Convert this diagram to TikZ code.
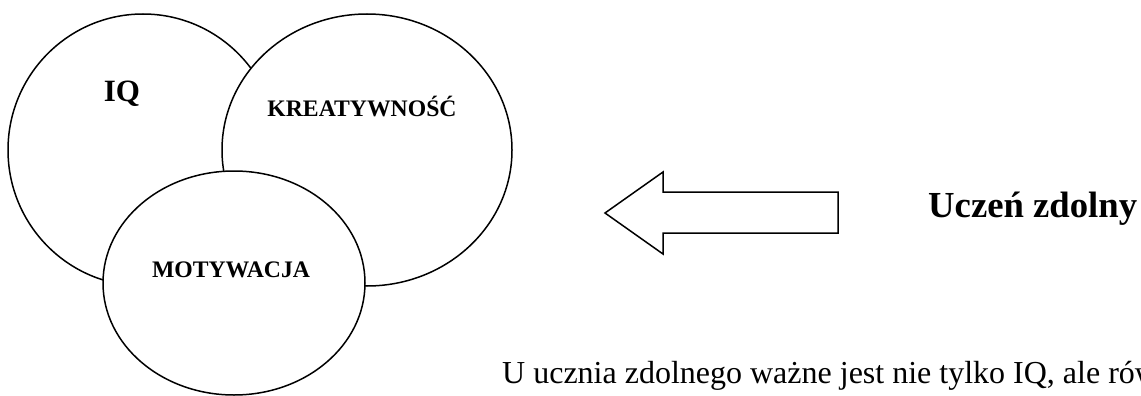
\documentclass[tikz,border=0pt]{standalone}
\usepackage{fontspec}
\setmainfont{Liberation Serif}
\definecolor{VennLine}{HTML}{000000}
\definecolor{VennFill}{HTML}{FFFFFF}

\begin{document}
\begin{tikzpicture}[x=1pt,y=-1pt,
    vennring/.style={draw=VennLine,fill=VennFill,line width=1.5pt},
    vennlabel/.style={anchor=base,inner sep=0pt,font=\bfseries\fontsize{23.7}{26}\selectfont}]
      \useasboundingbox (0,0) rectangle (1141,396);
      \clip (0,0) rectangle (1141,396);
      % three overlapping sets
      \draw[vennring] (143,150) ellipse [x radius=135, y radius=136];
      \draw[vennring] (367,150) ellipse [x radius=145, y radius=136];
      \draw[vennring] (234,283) ellipse [x radius=131, y radius=112];
      \node[vennlabel,font=\bfseries\fontsize{31}{34}\selectfont] (iq) at (122,102) {IQ};
      \node[vennlabel] (kreatywnosc) at (362,117) {KREATYWNOŚĆ};
      \node[vennlabel] (motywacja) at (231,277) {MOTYWACJA};
      % block arrow pointing left
      \draw[vennring] (605,213) -- (663,172) -- (663,192) -- (838,192)
        -- (838,233) -- (663,233) -- (663,254) -- cycle;
      \node[anchor=base west,inner sep=0pt,font=\bfseries\fontsize{36.7}{40}\selectfont] (uczen) at (928,217) {Uczeń zdolny};
      \node[anchor=base west,inner sep=0pt,font=\fontsize{32}{36}\selectfont] (opis) at (502,383) {U ucznia zdolnego ważne jest nie tylko IQ, ale rów};
    \end{tikzpicture}
\end{document}
